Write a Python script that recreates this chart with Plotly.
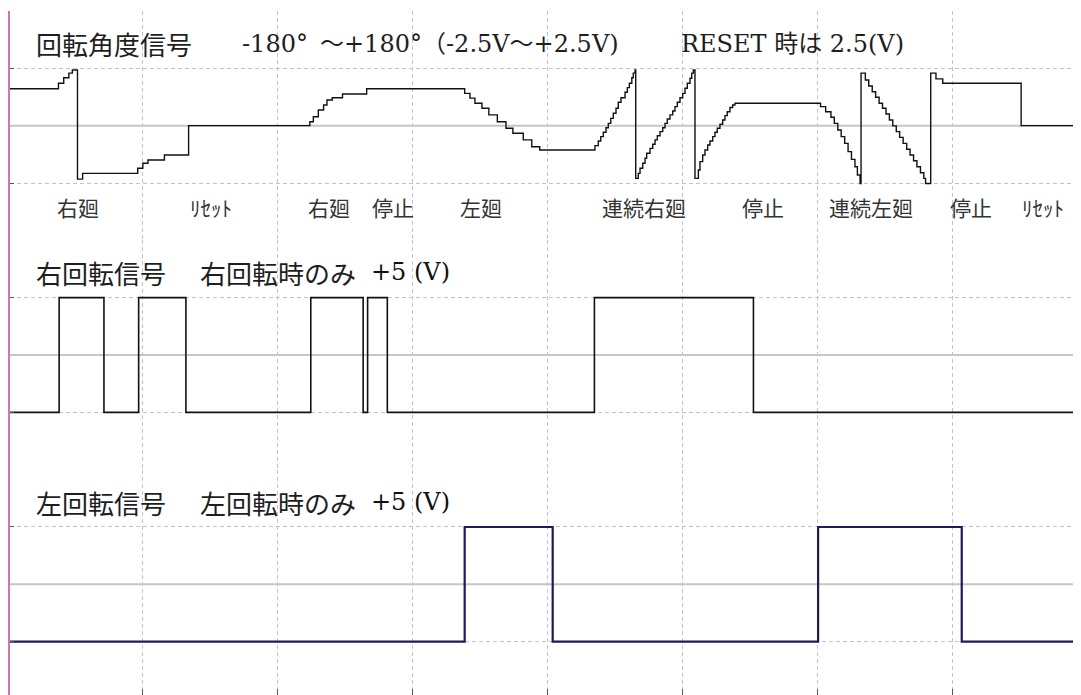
import plotly.graph_objects as go

# ---------------- data (time in 1/10 division, voltage in V) ----------------
# channel 1 : rotation angle signal (step points, value holds until next point)
t_angle = [0.0, 3.76, 4.15, 4.53, 4.79, 5.17, 5.55, 9.63, 10.01, 10.39, 11.61, 13.40,
           22.38, 22.64, 23.01, 23.40, 23.65, 24.04, 24.80, 26.59,
           33.85, 34.24, 34.61, 35.13, 35.64, 36.27, 36.91, 37.42, 38.19, 38.82, 39.41,
           43.50, 43.75, 43.93, 44.12, 44.32, 44.49, 44.67, 44.86, 45.06, 45.23, 45.43,
           45.73, 45.90, 46.05, 46.23, 46.34, 46.47,
           46.52, 46.71, 46.84, 47.04, 47.21, 47.33, 47.58, 47.78, 47.95, 48.12, 48.32,
           48.52, 48.69, 48.86, 49.06, 49.26, 49.43, 49.60, 49.80, 50.00, 50.17, 50.34,
           50.54, 50.67, 50.79,
           50.91, 51.16, 51.28, 51.48, 51.65, 51.85, 52.02, 52.22, 52.39, 52.56, 52.76,
           52.96, 53.13, 53.30, 53.50, 53.70, 53.87,
           59.96, 60.21, 60.59, 60.98, 61.23, 61.49, 61.74, 62.00, 62.25, 62.50, 62.76,
           62.94, 63.14,
           63.21, 63.53, 63.78, 64.04, 64.29, 64.55, 64.80, 65.06, 65.31, 65.56, 65.82,
           66.07, 66.33, 66.59, 66.84, 67.10, 67.35, 67.61, 67.86, 67.99,
           68.37, 68.76, 69.26, 75.07, 80.10]
v_angle = [1.61, 1.85, 2.09, 2.29, 2.43, -2.33, -2.08, -1.86, -1.64, -1.50, -1.28, 0.0,
           0.17, 0.39, 0.68, 0.90, 1.12, 1.22, 1.38, 1.61,
           1.41, 1.20, 0.98, 0.76, 0.47, 0.17, -0.11, -0.33, -0.62, -0.92, -1.06,
           -0.87, -0.67, -0.48, -0.29, -0.09, 0.10, 0.32, 0.54, 0.76, 1.02, 1.22,
           1.46, 1.66, 1.85, 2.09, 2.29, 2.43,
           -2.30, -2.08, -1.86, -1.64, -1.42, -1.20, -0.99, -0.81, -0.62, -0.44, -0.26,
           -0.09, 0.10, 0.29, 0.47, 0.64, 0.83, 1.02, 1.22, 1.41, 1.63, 1.85,
           2.07, 2.29, 2.43,
           -2.30, -1.93, -1.57, -1.28, -1.06, -0.84, -0.67, -0.48, -0.29, -0.11, 0.06,
           0.25, 0.44, 0.61, 0.79, 0.90, 0.98,
           0.98, 0.83, 0.61, 0.37, 0.10, -0.19, -0.48, -0.77, -1.13, -1.47, -1.79,
           -2.15, -2.52,
           2.29, 1.99, 1.73, 1.48, 1.24, 0.98, 0.76, 0.51, 0.25, -0.01, -0.26,
           -0.51, -0.77, -1.03, -1.28, -1.53, -1.79, -2.05, -2.30, -2.52,
           2.29, 2.04, 1.85, 0.0, 0.0]

# channel 2 : right rotation signal
t_right = [0.0, 3.81, 7.13, 9.70, 13.20, 22.45, 26.33, 26.66, 28.12, 43.46, 55.24, 80.10]
v_right = [0, 5, 0, 5, 0, 5, 0, 5, 0, 5, 0, 0]

# channel 3 : left rotation signal
t_left = [0.0, 33.85, 40.37, 60.03, 70.67, 80.10]
v_left = [0, 5, 0, 5, 0, 0]

# text
title_angle_cjk = "回転角度信号"
title_angle_parts = ["-180°", "～+180°", "（-2.5V～+2.5V)", "RESET 時は 2.5(V)"]
title_angle_px = [240, 318, 420, 679]
event_labels = ["右廻", "ﾘｾｯﾄ", "右廻", "停止", "左廻", "連続右廻", "停止", "連続左廻", "停止", "ﾘｾｯﾄ"]
event_label_px = [55, 188, 306, 370, 458, 600, 740, 827, 948, 1020]
title_right = ["右回転信号", "右回転時のみ", "+5 (V)"]
title_left = ["左回転信号", "左回転時のみ", "+5 (V)"]
title_sig_px = [34, 198, 369]

# ---------------- layout geometry (page pixels; page has an 8px body margin) ----------------
PAGE = 8
P_LEFT, P_TOP, P_RIGHT, P_BOTTOM = 10, 11, 1088, 699
W = P_RIGHT - PAGE
H = P_BOTTOM - PAGE
ML = P_LEFT - PAGE
MT = P_TOP - PAGE
PW = P_RIGHT - P_LEFT
PH = P_BOTTOM - P_TOP
X0_PX, DIV_PX = 7.7, 135.0  # pixel of t=0 and pixels per division (10 time units)


def xp(px):
    return (px - P_LEFT) / PW


def yp(py):
    return (P_BOTTOM - py) / PH


GRID = "#c2c2d6"
CENTER = "#c6c6c6"
PINK = "#d672ae"
CJK = "Noto Sans CJK JP"
MIX = "DejaVu Serif, Noto Sans CJK JP"

fig = go.Figure()
fig.add_trace(go.Scatter(x=t_angle, y=v_angle, mode="lines", xaxis="x", yaxis="y",
                         line=dict(shape="hv", color="#111111", width=1.4), hoverinfo="skip"))
fig.add_trace(go.Scatter(x=t_right, y=v_right, mode="lines", xaxis="x", yaxis="y2",
                         line=dict(shape="hv", color="#111111", width=1.6), hoverinfo="skip"))
fig.add_trace(go.Scatter(x=t_left, y=v_left, mode="lines", xaxis="x", yaxis="y3",
                         line=dict(shape="hv", color="#1b1b5e", width=2.2), hoverinfo="skip"))

yax_common = dict(showticklabels=False, ticks="inside", ticklen=4, tickcolor="#555555",
                  showgrid=True, gridcolor=GRID, griddash="4px,3px", gridwidth=1,
                  zeroline=False, showline=True, linecolor=PINK, linewidth=2,
                  anchor="x", fixedrange=True)

x_lo = (P_LEFT - X0_PX) / DIV_PX * 10
x_hi = (P_RIGHT - X0_PX) / DIV_PX * 10

fig.update_layout(
    width=W, height=H,
    margin=dict(l=ML, r=0, t=MT, b=0, pad=0),
    paper_bgcolor="white", plot_bgcolor="white",
    showlegend=False,
    xaxis=dict(domain=[0, 1], range=[x_lo, x_hi], anchor="y3",
               tickvals=[10, 20, 30, 40, 50, 60, 70], ticks="inside", ticklen=10,
               tickcolor="#555555", showticklabels=False,
               showgrid=True, gridcolor=GRID, griddash="4px,3px", gridwidth=1,
               zeroline=False, showline=False, fixedrange=True),
    yaxis=dict(domain=[2 / 3, 1], range=[-5, 5], tickvals=[-5, -2.5, 2.5, 5], **yax_common),
    yaxis2=dict(domain=[1 / 3, 2 / 3], range=[-2.5, 7.5], tickvals=[-2.5, 0, 5, 7.5], **yax_common),
    yaxis3=dict(domain=[0, 1 / 3], range=[-2.5, 7.5], tickvals=[0, 5, 7.5], **yax_common),
)

# solid centre lines of each channel
for yref, yc in (("y", 0), ("y2", 2.5), ("y3", 2.5)):
    fig.add_shape(type="line", xref="paper", x0=0, x1=1, yref=yref, y0=yc, y1=yc,
                  line=dict(color=CENTER, width=2), layer="below")


def label(text, px, py, size, family, color="#1e1e1e"):
    fig.add_annotation(text=text, xref="paper", yref="paper", x=xp(px), y=yp(py),
                       xanchor="left", yanchor="middle", showarrow=False,
                       font=dict(family=family, size=size, color=color))


label(title_angle_cjk, 34, 44, 26, CJK)
for txt, px in zip(title_angle_parts, title_angle_px):
    label(txt, px, 44, 24, MIX)
for txt, px in zip(event_labels, event_label_px):
    label(txt, px, 207, 21, CJK, "#333333")
for row, py in ((title_right, 272), (title_left, 502)):
    label(row[0], title_sig_px[0], py, 26, CJK)
    label(row[1], title_sig_px[1], py, 26, CJK)
    label(row[2], title_sig_px[2], py, 24, MIX, "#111111")

fig.write_html("out.html")
